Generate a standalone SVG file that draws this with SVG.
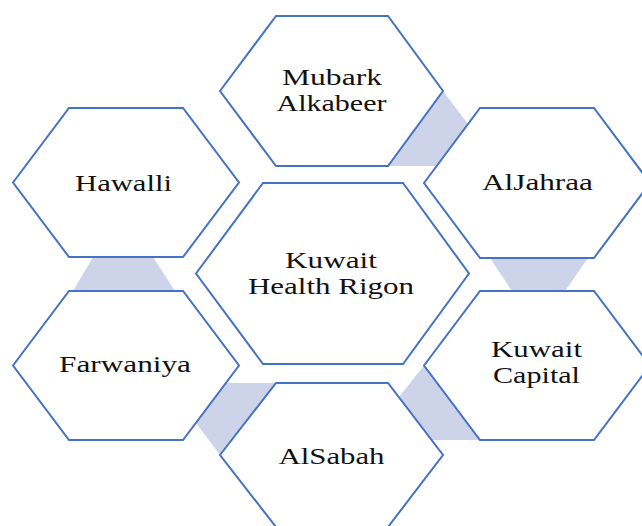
<svg xmlns="http://www.w3.org/2000/svg" width="642" height="526" viewBox="0 0 642 526">
  <style>
    .bridge { fill: #cdd4e9; stroke: none; }
    .hex { fill: #ffffff; stroke: #4472c4; stroke-width: 2; stroke-linejoin: miter; }
    .label { font-family: "Liberation Serif", "Times New Roman", serif; font-size: 23px; fill: #111111; text-anchor: middle; }
  </style>
  <rect width="642" height="526" fill="#ffffff"/>

  <!-- shaded bridges between neighbouring hexagons -->
  <g id="connectors">
    <polygon class="bridge" points="443,91 468,124 436,166 388,166"/>
    <polygon class="bridge" points="93,257 153,257 175,291 73,291"/>
    <polygon class="bridge" points="490,258 588,258 565,291 512,291"/>
    <polygon class="bridge" points="220,455 276,383 226,383 196,423"/>
    <polygon class="bridge" points="424,365.5 480,440 431,440 399,397"/>
  </g>

  <g id="mubark-alkabeer">
    <polygon class="hex" points="220,91 276,16 388,16 443,91 388,166 276,166"/>
    <text class="label" x="332" y="85" textLength="100" lengthAdjust="spacingAndGlyphs">Mubark</text>
    <text class="label" x="331.5" y="110.5" textLength="110" lengthAdjust="spacingAndGlyphs">Alkabeer</text>
  </g>

  <g id="hawalli">
    <polygon class="hex" points="13,182.5 69,108 183,108 239,182.5 183,257 69,257"/>
    <text class="label" x="123.5" y="190.5" textLength="97" lengthAdjust="spacingAndGlyphs">Hawalli</text>
  </g>

  <g id="aljahraa">
    <polygon class="hex" points="424,183 480,108 594,108 650,183 594,258 480,258"/>
    <text class="label" x="537.5" y="190" textLength="111" lengthAdjust="spacingAndGlyphs">AlJahraa</text>
  </g>

  <g id="kuwait-health-region">
    <polygon class="hex" points="196,273.5 263,183 403,183 469,273.5 403,364 263,364"/>
    <text class="label" x="331" y="268" textLength="92" lengthAdjust="spacingAndGlyphs">Kuwait</text>
    <text class="label" x="331" y="293.5" textLength="166" lengthAdjust="spacingAndGlyphs">Health Rigon</text>
  </g>

  <g id="farwaniya">
    <polygon class="hex" points="13,365.5 69,291 183,291 239,365.5 183,440 69,440"/>
    <text class="label" x="125" y="371.5" textLength="132" lengthAdjust="spacingAndGlyphs">Farwaniya</text>
  </g>

  <g id="kuwait-capital">
    <polygon class="hex" points="424,365.5 480,291 594,291 650,365.5 594,440 480,440"/>
    <text class="label" x="536.5" y="357" textLength="91" lengthAdjust="spacingAndGlyphs">Kuwait</text>
    <text class="label" x="536.5" y="382.5" textLength="87" lengthAdjust="spacingAndGlyphs">Capital</text>
  </g>

  <g id="alsabah">
    <polygon class="hex" points="220,455 276,383 388,383 443,455 388,527 276,527"/>
    <text class="label" x="331.5" y="463.5" textLength="106" lengthAdjust="spacingAndGlyphs">AlSabah</text>
  </g>
</svg>
